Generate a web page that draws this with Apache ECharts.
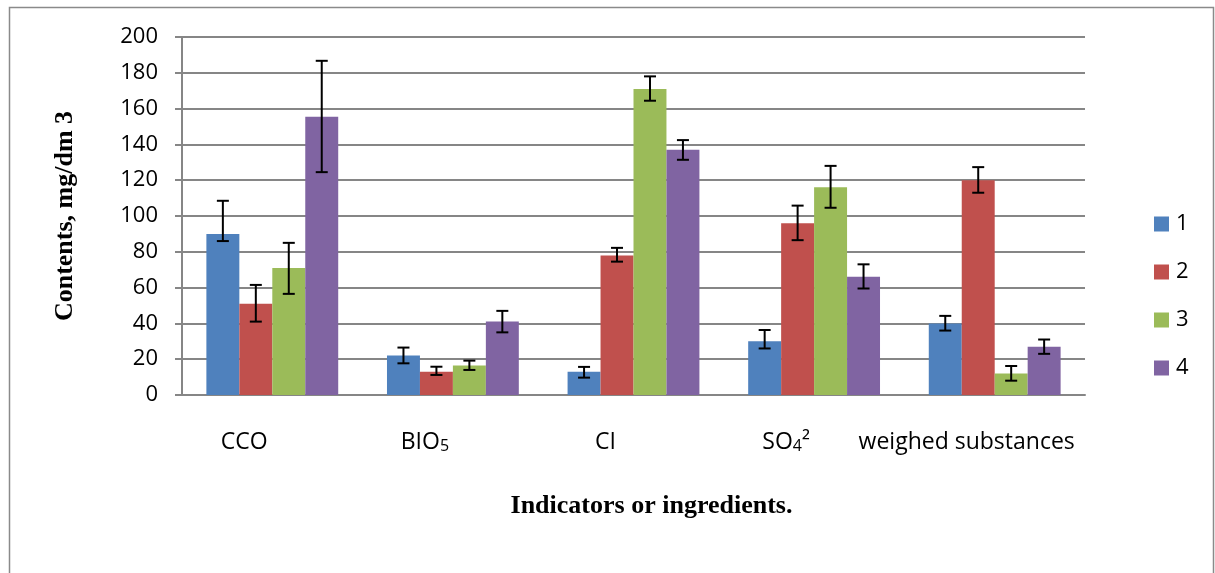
<!DOCTYPE html>
<html lang="en">
<head>
    <meta charset="UTF-8">
    <title>Contents by indicator</title>
    <style>
        html, body { margin: 0; padding: 0; background: #fff; }
    </style>
</head>
<body>
<div id="main" style="width: 1215px;height:573px;"></div>
<script src="https://cdn.jsdelivr.net/npm/echarts@6/dist/echarts.min.js"></script>
<script>
    // categories and series names
    var categories = ['CCO', 'BIO5', 'CI', 'SO4²', 'weighed substances'];
    var seriesNames = ['1', '2', '3', '4'];

    // bar values
    var values1 = [90, 22, 13, 30, 40];
    var values2 = [51, 13, 78, 96, 120];
    var values3 = [71, 16.5, 171, 116, 12];
    var values4 = [155.5, 41, 137, 66, 27];

    // error bar ends (low / high)
    var low1 = [86, 17.7, 9.7, 26, 36];
    var high1 = [108.5, 26.5, 15.7, 36.3, 44.2];
    var low2 = [41, 11.2, 74.5, 86.5, 113];
    var high2 = [61.5, 15.8, 82.2, 105.8, 127.3];
    var low3 = [56.5, 14, 164.4, 104.6, 8];
    var high3 = [85, 19.2, 178, 128, 16.2];
    var low4 = [124.5, 35, 131.4, 59.5, 23];
    var high4 = [186.7, 47, 142.4, 73, 31];

    var yTicks = { min: 0, max: 200, interval: 20 };

    var colors = ['#4F81BD', '#C0504D', '#9BBB59', '#8064A2'];
    var sansFont = 'Open Sans';
    var serifFont = 'Liberation Serif';
    var catGap = 0.27;

    var chart = echarts.init(document.getElementById('main'));

    var allValues = [values1, values2, values3, values4];
    var allLow = [low1, low2, low3, low4];
    var allHigh = [high1, high2, high3, high4];

    // error bars drawn as a custom series next to each bar series
    function errorSeries(k) {
        var data = categories.map(function (c, i) {
            return [i, allLow[k][i], allHigh[k][i]];
        });
        return {
            name: 'err' + seriesNames[k],
            type: 'custom',
            z: 10,
            silent: true,
            data: data,
            encode: { x: 0, y: [1, 2] },
            renderItem: function (params, api) {
                var idx = api.value(0);
                var pLow = api.coord([idx, api.value(1)]);
                var pHigh = api.coord([idx, api.value(2)]);
                var band = api.size([1, 0])[0];
                var barW = band * (1 - catGap) / 4;
                var x = pLow[0] + (k - 1.5) * barW;
                var cap = 6;
                var style = { stroke: '#000', lineWidth: 2 };
                return {
                    type: 'group',
                    children: [
                        { type: 'line', shape: { x1: x, y1: pLow[1], x2: x, y2: pHigh[1] }, style: style },
                        { type: 'line', shape: { x1: x - cap, y1: pLow[1], x2: x + cap, y2: pLow[1] }, style: style },
                        { type: 'line', shape: { x1: x - cap, y1: pHigh[1], x2: x + cap, y2: pHigh[1] }, style: style }
                    ]
                };
            }
        };
    }

    var series = [];
    seriesNames.forEach(function (name, k) {
        series.push({
            name: name,
            type: 'bar',
            barGap: '0%',
            barCategoryGap: (catGap * 100) + '%',
            itemStyle: { color: colors[k] },
            data: allValues[k]
        });
    });
    seriesNames.forEach(function (name, k) {
        series.push(errorSeries(k));
    });

    var option = {
        animation: false,
        color: colors,
        textStyle: { fontFamily: sansFont },
        graphic: [
            {
                type: 'rect',
                shape: { x: 9.5, y: 7.5, width: 1204, height: 600 },
                style: { fill: 'none', stroke: '#8a8a8a', lineWidth: 1.5 }
            }
        ],
        legend: {
            orient: 'vertical',
            left: 1154,
            top: 213,
            padding: 0,
            data: seriesNames,
            itemWidth: 15,
            itemHeight: 15,
            itemGap: 26,
            icon: 'rect',
            textStyle: { fontSize: 22, color: '#000', fontFamily: sansFont, padding: [0, 0, 0, 2] }
        },
        grid: {
            left: 182,
            right: 130,
            top: 37,
            bottom: 178
        },
        xAxis: {
            type: 'category',
            data: categories,
            name: 'Indicators or ingredients.',
            nameLocation: 'middle',
            nameGap: 98,
            nameTextStyle: {
                fontFamily: serifFont,
                fontWeight: 'bold',
                fontSize: 26,
                color: '#000',
                padding: [0, 0, 0, 36]
            },
            axisLine: { lineStyle: { color: '#868686', width: 2 } },
            axisTick: { show: false },
            axisLabel: {
                margin: 36,
                fontSize: 23,
                color: '#000',
                interval: 0,
                padding: [0, 56, 0, 0],
                formatter: function (v) {
                    return v.replace(/^(BIO)(5)$/, '$1{sub|$2}').replace(/^(SO)(4)(²)$/, '$1{sub|$2}$3');
                },
                rich: {
                    sub: { fontSize: 16, color: '#000', fontFamily: sansFont, verticalAlign: 'bottom' }
                }
            }
        },
        yAxis: {
            type: 'value',
            min: yTicks.min,
            max: yTicks.max,
            interval: yTicks.interval,
            name: 'Contents, mg/dm 3',
            nameLocation: 'middle',
            nameGap: 104,
            nameRotate: 90,
            nameTextStyle: {
                fontFamily: serifFont,
                fontWeight: 'bold',
                fontSize: 26,
                color: '#000'
            },
            axisLine: { show: true, lineStyle: { color: '#868686', width: 2 } },
            axisTick: { show: true, length: 7, lineStyle: { color: '#868686', width: 2 } },
            axisLabel: { margin: 24, fontSize: 22, color: '#000' },
            splitLine: { lineStyle: { color: '#868686', width: 2 } }
        },
        series: series
    };

    chart.setOption(option);
</script>
</body>
</html>
